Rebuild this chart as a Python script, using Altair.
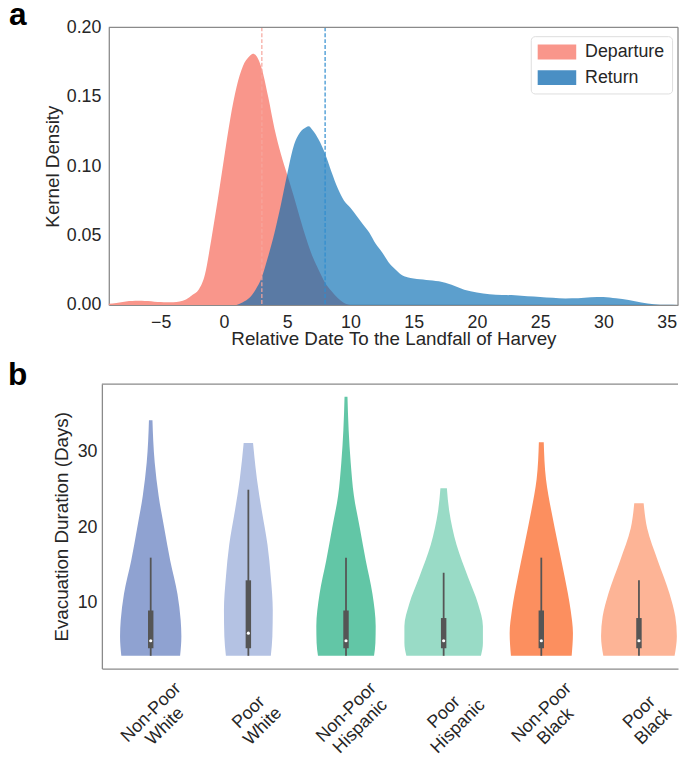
import altair as alt
import pandas as pd

# ---------------- Panel a: kernel densities ----------------
dep_x = [-9.1, -8.5, -8.0, -7.5, -7.0, -6.5, -6.0, -5.5, -5.0, -4.5, -4.0, -3.5, -3.0, -2.5,
         -2.0, -1.5, -1.0, -0.5, 0.0, 0.5, 1.0, 1.5, 2.0, 2.3, 2.6, 3.0, 3.5, 4.0, 4.5, 5.0,
         5.5, 6.0, 6.5, 7.0, 7.5, 8.0, 8.5, 9.0, 9.5, 10.0]
dep_y = [0.0008, 0.0015, 0.0022, 0.0028, 0.0031, 0.0031, 0.0028, 0.0024, 0.0021, 0.0019,
         0.0020, 0.0025, 0.0040, 0.0072, 0.0110, 0.0220, 0.0470, 0.0750, 0.1050, 0.1340,
         0.1570, 0.1720, 0.1790, 0.1810, 0.1790, 0.1700, 0.1500, 0.1270, 0.1090, 0.0940,
         0.0790, 0.0630, 0.0480, 0.0350, 0.0250, 0.0160, 0.0100, 0.0050, 0.0015, 0.0000]

ret_x = [1.0, 1.5, 2.0, 2.5, 3.0, 3.5, 4.0, 4.5, 5.0, 5.5, 6.0, 6.5, 6.7, 7.0, 7.5, 8.0, 8.5,
         9.0, 9.5, 10.0, 10.5, 11.0, 11.5, 12.0, 12.5, 13.0, 13.5, 14.0, 14.5, 15.0, 15.5,
         16.0, 17.0, 18.0, 19.0, 20.0, 21.0, 22.0, 23.0, 24.0, 25.0, 26.0, 27.0, 28.0, 29.0,
         30.0, 31.0, 32.0, 33.0, 34.0, 35.0, 35.9]
ret_y = [0.0000, 0.0020, 0.0050, 0.0110, 0.0200, 0.0350, 0.0520, 0.0720, 0.0940, 0.1140,
         0.1240, 0.1280, 0.1287, 0.1260, 0.1190, 0.1090, 0.0960, 0.0840, 0.0750, 0.0700,
         0.0640, 0.0580, 0.0520, 0.0440, 0.0380, 0.0310, 0.0260, 0.0220, 0.0200, 0.0190,
         0.0185, 0.0180, 0.0170, 0.0145, 0.0110, 0.0090, 0.0078, 0.0072, 0.0070, 0.0063,
         0.0058, 0.0052, 0.0047, 0.0048, 0.0055, 0.0058, 0.0048, 0.0035, 0.0018, 0.0006,
         0.0001, 0.0000]

series_names = ["Departure", "Return"]
mean_days = [3.0, 8.0]

# ---------------- Panel b: violins ----------------
groups = ["Non-Poor White", "Poor White", "Non-Poor Hispanic", "Poor Hispanic",
          "Non-Poor Black", "Poor Black"]
violin_colors = ["#8fa2d1", "#b4c2e3", "#62c6a6", "#99dbc6", "#fc8f5f", "#fdb496"]

prof_y = [
    [3.0, 5.6, 7.7, 11.2, 15.6, 19.9, 24.2, 28.6, 31.5, 34.2],
    [3.0, 5.6, 9.0, 13.4, 17.7, 22.1, 26.4, 31.2],
    [3.0, 4.7, 6.9, 11.2, 15.6, 19.9, 24.2, 28.6, 32.9, 37.3],
    [3.0, 4.7, 6.9, 9.9, 13.4, 17.7, 22.1, 25.2],
    [3.0, 6.0, 9.0, 13.4, 17.7, 22.1, 26.4, 31.3],
    [3.0, 5.6, 8.2, 11.2, 15.6, 19.9, 23.2],
]
prof_w = [
    [0.301, 0.314, 0.307, 0.274, 0.200, 0.139, 0.081, 0.041, 0.026, 0.018],
    [0.230, 0.246, 0.250, 0.230, 0.196, 0.139, 0.088, 0.048],
    [0.287, 0.301, 0.304, 0.271, 0.203, 0.142, 0.081, 0.048, 0.027, 0.015],
    [0.382, 0.402, 0.402, 0.352, 0.250, 0.132, 0.058, 0.033],
    [0.311, 0.324, 0.301, 0.240, 0.172, 0.104, 0.048, 0.025],
    [0.365, 0.388, 0.372, 0.314, 0.193, 0.084, 0.048],
]
box_q1 = [4, 4, 4, 4, 4, 4]
box_med = [5, 6, 5, 5, 5, 5]
box_q3 = [9, 13, 9, 8, 9, 8]
whisk_lo = [3, 3, 3, 3, 3, 3]
whisk_hi = [16, 25, 16, 14, 16, 13]

FONT = "Liberation Sans"
FRAME = "#8a8a8a"
TXT = "#262626"

# ---------------- build tables ----------------
dep_df = pd.DataFrame({"x": dep_x, "y": dep_y, "series": "Departure"})
ret_df = pd.DataFrame({"x": ret_x, "y": ret_y, "series": "Return"})
mean_df = pd.DataFrame({"series": series_names, "m": mean_days})
one_row = pd.DataFrame({"a": [0]})

rows = []
for i, g in enumerate(groups):
    for yy, ww in zip(prof_y[i], prof_w[i]):
        rows.append({"group": g, "idx": i, "y": yy, "w": ww})
vio_df = pd.DataFrame(rows)
box_df = pd.DataFrame({"group": groups, "idx": list(range(len(groups))),
                       "q1": box_q1, "med": box_med, "q3": box_q3,
                       "lo": whisk_lo, "hi": whisk_hi})

# panel a sits 7px to the right of panel b's left edge
A_SHIFT = 7
PW = 583
xa = alt.Scale(domain=[-9.1, 35.9], nice=False, zero=False, range=[A_SHIFT, PW])
ya = alt.Scale(domain=[0, 0.2], nice=False)

x_axis_a = alt.Axis(values=list(range(-5, 40, 5)), format="d", title="Relative Date To the Landfall of Harvey",
                    labelPadding=9, titlePadding=-2, domain=True, domainColor=FRAME, domainWidth=1.3,
                    ticks=False, grid=False)
y_axis_a = alt.Axis(values=[0, 0.05, 0.10, 0.15, 0.20], format=".2f", title="Kernel Density",
                    labelPadding=8, titlePadding=4, offset=-A_SHIFT, domain=True, domainColor=FRAME,
                    domainWidth=1.3, ticks=False, grid=False)

dep_area = alt.Chart(dep_df).mark_area(color="#f9968b", interpolate="monotone").encode(
    x=alt.X("x:Q", scale=xa, axis=x_axis_a),
    y=alt.Y("y:Q", scale=ya, axis=y_axis_a),
)
ret_area = alt.Chart(ret_df).mark_area(color="#056bb2", opacity=0.65, interpolate="monotone").encode(
    x=alt.X("x:Q", scale=xa),
    y=alt.Y("y:Q", scale=ya),
)
mean_rules = alt.Chart(mean_df).mark_rule(strokeDash=[4, 2], strokeWidth=1.2).encode(
    x=alt.X("m:Q", scale=xa),
    color=alt.Color("series:N", scale=alt.Scale(domain=series_names, range=["#f6a59c", "#2f8ccf"]), legend=None),
)
frame_top = alt.Chart(one_row).mark_rule(color=FRAME, strokeWidth=1.3).encode(
    x=alt.datum(-9.1, scale=xa), x2=alt.datum(35.9), y=alt.datum(0.2, scale=ya))
frame_right = alt.Chart(one_row).mark_rule(color=FRAME, strokeWidth=1.3).encode(
    x=alt.datum(35.9, scale=xa), y=alt.datum(0.0, scale=ya), y2=alt.datum(0.2))

legend_shape = "M-2.6,-1L2.6,-1L2.6,1L-2.6,1Z"
legend_layer = alt.Chart(mean_df).mark_point(opacity=0, filled=True).encode(
    x=alt.X("m:Q", scale=xa),
    fill=alt.Fill("series:N", scale=alt.Scale(domain=series_names, range=["#f9968b", "#4a8fc4"]),
                  legend=alt.Legend(title=None, orient="none", legendX=434, legendY=9,
                                    symbolType=legend_shape, symbolSize=225, symbolOpacity=1,
                                    symbolStrokeWidth=0, symbolOffset=10.5,
                                    labelFontSize=18, labelFont=FONT,
                                    labelColor=TXT, labelOffset=19.5, rowPadding=8,
                                    padding=7, strokeColor="#dddddd", cornerRadius=4,
                                    fillColor="white")),
)
letter_a = alt.Chart(pd.DataFrame({"t": ["a"]})).mark_text(
    fontSize=32, fontWeight="bold", font=FONT, align="left", baseline="alphabetic", color="black"
).encode(text="t:N", x=alt.value(-94), y=alt.value(-2))

panel_a = alt.layer(dep_area, ret_area, mean_rules, frame_top, frame_right, legend_layer, letter_a).properties(
    width=PW, height=281,
    view=alt.ViewBackground(strokeOpacity=0),
).resolve_scale(color="independent", fill="independent")

# ---------------- panel b ----------------
xb = alt.Scale(domain=[-0.5, 5.4], nice=False, zero=False)
yb = alt.Scale(domain=[1.3, 39.0], nice=False, zero=False)

label_expr = " : ".join(
    [f"datum.value == {i} ? ['{g.split(' ')[0]}', '{g.split(' ')[1]}']" for i, g in enumerate(groups)]
) + " : ''"

x_axis_b = alt.Axis(values=list(range(6)), labelExpr=label_expr, title=None, labelAngle=-45,
                    labelAlign="center", labelBaseline="middle", labelPadding=44,
                    labelLineHeight=20, labelOverlap=False, labelFlush=False, labelBound=False,
                    domain=True, domainColor=FRAME, domainWidth=1.3, ticks=False, grid=False)
y_axis_b = alt.Axis(values=[10, 20, 30], title="Evacuation Duration (Days)", labelPadding=5,
                    titlePadding=6, domain=True, domainColor=FRAME, domainWidth=1.3,
                    ticks=False, grid=False)

violins = alt.Chart(vio_df).transform_calculate(
    left="datum.idx - datum.w", right="datum.idx + datum.w"
).mark_area(orient="horizontal", interpolate="monotone").encode(
    y=alt.Y("y:Q", scale=yb, axis=y_axis_b),
    x=alt.X("left:Q", scale=xb, axis=x_axis_b),
    x2="right:Q",
    color=alt.Color("group:N", scale=alt.Scale(domain=groups, range=violin_colors), legend=None),
    detail="group:N",
)
whiskers = alt.Chart(box_df).mark_rule(color="#555555", strokeWidth=1.8).encode(
    x=alt.X("idx:Q", scale=xb), y=alt.Y("lo:Q", scale=yb), y2="hi:Q")
boxes = alt.Chart(box_df).mark_rule(color="#555555", strokeWidth=5.5).encode(
    x=alt.X("idx:Q", scale=xb), y=alt.Y("q1:Q", scale=yb), y2="q3:Q")
medians = alt.Chart(box_df).mark_point(filled=True, color="white", size=10, opacity=1).encode(
    x=alt.X("idx:Q", scale=xb), y=alt.Y("med:Q", scale=yb))
top_line = alt.Chart(one_row).mark_rule(color=FRAME, strokeWidth=1.3).encode(
    x=alt.datum(-0.5, scale=xb), x2=alt.datum(5.4), y=alt.datum(39.0, scale=yb))
letter_b = alt.Chart(pd.DataFrame({"t": ["b"]})).mark_text(
    fontSize=32, fontWeight="bold", font=FONT, align="left", baseline="alphabetic", color="black"
).encode(text="t:N", x=alt.value(-95), y=alt.value(1))

panel_b = alt.layer(violins, whiskers, boxes, medians, top_line, letter_b).properties(
    width=PW, height=288,
    view=alt.ViewBackground(strokeOpacity=0),
)

chart = alt.concat(panel_a, panel_b, columns=1, spacing=11).resolve_scale(
    color="independent", fill="independent"
).properties(
    padding={"left": 0, "top": -13, "right": 0, "bottom": 0},
).configure_axis(
    labelFont=FONT, titleFont=FONT, labelFontSize=18, titleFontSize=19,
    labelColor=TXT, titleColor=TXT, titleFontWeight="normal",
).configure_view(stroke=FRAME)

chart.save("out.html", embed_options={"renderer": "svg", "actions": False})
